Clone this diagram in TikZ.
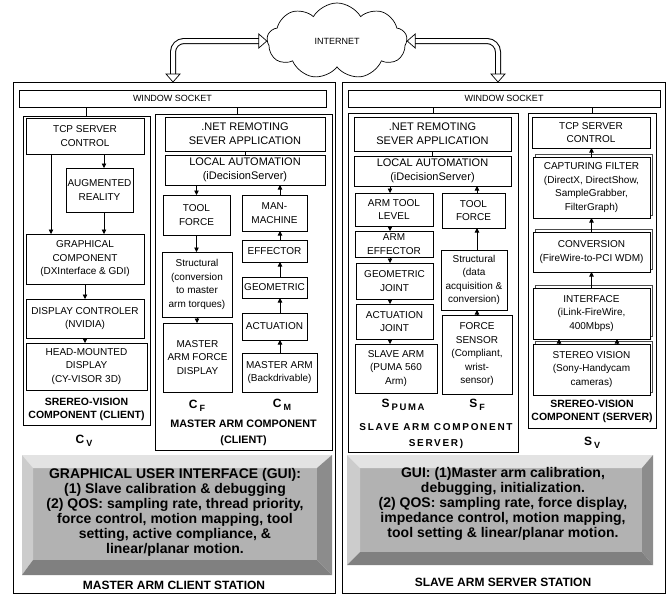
\documentclass[tikz,border=0pt]{standalone}
\usepackage{fontspec}
\setmainfont{Liberation Sans}
\newfontfamily\widefont[LetterSpace=17]{Liberation Sans}
\usetikzlibrary{shapes.symbols}
\usetikzlibrary{shadows}
\usetikzlibrary{arrows.meta}

\begin{document}
\begin{tikzpicture}[x=1pt,y=-1pt,
  box/.style={draw,fill=white,line width=0.7pt,inner sep=1pt,outer sep=0pt,align=center,font={\fontsize{10}{13.5}\selectfont}},
  bigbox/.style={box,font={\fontsize{11}{14}\selectfont}},
  stackbox/.style={box,copy shadow={shadow xshift=2.5pt,shadow yshift=2.5pt,fill=white,draw=black!70,line width=1pt}},
  frame/.style={draw,line width=0.7pt,outer sep=0pt,inner sep=0pt},
  title/.style={align=center,font={\fontsize{10.5}{13}\selectfont\bfseries}},
  sublab/.style={anchor=base,font={\fontsize{12}{12}\selectfont\bfseries}},
  guitext/.style={align=center,font={\fontsize{14}{15}\selectfont\bfseries}},
  arr/.style={line width=0.7pt,-{Triangle[length=4.5pt,width=4.5pt]}},
  link/.style={line width=0.7pt},
  hollow/.style={line width=6pt,rounded corners=11pt,shorten <=8pt,shorten >=8pt},
  hollowin/.style={white,line width=4pt,rounded corners=11pt,shorten <=8pt,shorten >=8pt},
  tip/.style={draw,fill=white,line width=0.7pt}]
  \useasboundingbox (0,0) rectangle (672,595);

  \node[cloud,draw,line width=0.7pt,cloud puffs=9,cloud puff arc=120,aspect=1.9,minimum width=140pt,minimum height=76pt,inner sep=0pt,font={\fontsize{9}{9}\selectfont}] (inet) at (337,41) {INTERNET};

  \node[frame,minimum width=322pt,minimum height=511pt] (lstn) at (174,337.5) {};
  \node[frame,minimum width=323pt,minimum height=511pt] (rstn) at (503.5,337.5) {};

  \node[box,minimum width=307pt,minimum height=17pt,font={\fontsize{9}{9}\selectfont}] (lsock) at (172.5,98.5) {WINDOW SOCKET};
  \node[box,minimum width=312pt,minimum height=17pt,font={\fontsize{9}{9}\selectfont}] (rsock) at (504,98.5) {WINDOW SOCKET};

  \node[frame,minimum width=127pt,minimum height=309pt] (cvbox) at (86.5,270.5) {};
  \node[frame,minimum width=177pt,minimum height=336pt] (cmbox) at (243.5,282) {};
  \node[frame,minimum width=170pt,minimum height=339pt] (spbox) at (433,282.5) {};
  \node[frame,minimum width=128pt,minimum height=315pt] (svbox) at (592,270.5) {};

  \node[box,minimum width=118pt,minimum height=36pt] (ltcp) at (85,136) {TCP SERVER\\CONTROL};
  \node[box,minimum width=67pt,minimum height=44pt] (laug) at (99.5,190) {AUGMENTED\\REALITY};
  \node[box,minimum width=118pt,minimum height=50pt] (lgraph) at (85,259) {GRAPHICAL\\COMPONENT\\(DXInterface \& GDI)};
  \node[box,minimum width=118pt,minimum height=39pt] (ldisp) at (85,318.5) {DISPLAY CONTROLER\\(NVIDIA)};
  \node[box,minimum width=121pt,minimum height=47pt] (lhmd) at (86.5,366.5) {HEAD-MOUNTED\\DISPLAY\\(CY-VISOR 3D)};
  \node[title] (cvname) at (86.5,409) {SREREO-VISION\\COMPONENT (CLIENT)};
  \node[sublab] (cvlab) at (84,443) {C\,\raisebox{-3pt}{\fontsize{9}{9}\selectfont V}};

  \node[bigbox,minimum width=160pt,minimum height=34pt] (mnet) at (245,134) {.NET REMOTING\\SEVER APPLICATION};
  \node[bigbox,minimum width=160pt,minimum height=30pt] (mloc) at (245,170) {LOCAL AUTOMATION\\(iDecisionServer)};
  \node[box,minimum width=67pt,minimum height=40pt] (mtool) at (196.5,215) {TOOL\\FORCE};
  \node[box,minimum width=70pt,minimum height=65pt] (mstruct) at (197,284.5) {Structural\\(conversion\\to master\\arm torques)};
  \node[box,minimum width=69pt,minimum height=69pt] (mdisp) at (197.5,357.5) {MASTER\\ARM FORCE\\DISPLAY};
  \node[box,minimum width=65pt,minimum height=36pt] (mman) at (274.5,213) {MAN-\\MACHINE};
  \node[box,minimum width=65pt,minimum height=22pt] (meff) at (274.5,251) {EFFECTOR};
  \node[box,minimum width=65pt,minimum height=21pt] (mgeo) at (274.5,287.5) {GEOMETRIC};
  \node[box,minimum width=65pt,minimum height=27pt] (mact) at (274.5,326.5) {ACTUATION};
  \node[box,minimum width=75pt,minimum height=39pt] (marm) at (279.5,372.5) {MASTER ARM\\(Backdrivable)};
  \node[sublab] (cflab) at (197,408) {C\,\raisebox{-3pt}{\fontsize{9}{9}\selectfont F}};
  \node[sublab] (cmlab) at (282,407) {C\,\raisebox{-3pt}{\fontsize{9}{9}\selectfont M}};
  \node[align=center,font={\fontsize{10.8}{16}\selectfont\bfseries}] (cmname) at (243.5,433) {MASTER ARM COMPONENT\\(CLIENT)};

  \node[bigbox,minimum width=157pt,minimum height=34pt] (snet) at (432.5,134) {.NET REMOTING\\SEVER APPLICATION};
  \node[bigbox,minimum width=157pt,minimum height=30pt] (sloc) at (432.5,171) {LOCAL AUTOMATION\\(iDecisionServer)};
  \node[box,minimum width=78pt,minimum height=33pt] (stool) at (394,209.5) {ARM TOOL\\LEVEL};
  \node[box,minimum width=78pt,minimum height=26pt] (seff) at (394,244) {ARM\\EFFECTOR};
  \node[box,minimum width=77pt,minimum height=36pt] (sgeo) at (394.5,281) {GEOMETRIC\\JOINT};
  \node[box,minimum width=77pt,minimum height=35pt] (sact) at (394.5,321.5) {ACTUATION\\JOINT};
  \node[box,minimum width=82pt,minimum height=49pt] (sarm) at (396,368.5) {SLAVE ARM\\(PUMA 560\\Arm)};
  \node[box,minimum width=63pt,minimum height=35pt] (sftool) at (473.5,210.5) {TOOL\\FORCE};
  \node[box,minimum width=66pt,minimum height=60pt] (sstruct) at (474,280) {Structural\\(data\\acquisition \&\\conversion)};
  \node[box,minimum width=70pt,minimum height=79pt] (ssens) at (477,354.5) {FORCE\\SENSOR\\(Compliant,\\wrist-\\sensor)};
  \node[sublab] (spumalab) at (403,407) {S\,\raisebox{-3pt}{\widefont\bfseries\fontsize{9.5}{9.5}\selectfont PUMA}};
  \node[sublab] (sflab) at (477,407) {S\,\raisebox{-3pt}{\fontsize{9}{9}\selectfont F}};
  \node[align=center,font={\widefont\bfseries\fontsize{10}{16}\selectfont}] (spname) at (436,436) {SLAVE ARM COMPONENT\\SERVER)};

  \node[box,minimum width=118pt,minimum height=31pt] (rtcp) at (591,132.5) {TCP SERVER\\CONTROL};
  \node[stackbox,minimum width=117pt,minimum height=61pt] (rcap) at (591.5,187.5) {CAPTURING FILTER\\(DirectX, DirectShow,\\SampleGrabber,\\FilterGraph)};
  \node[stackbox,minimum width=117pt,minimum height=40pt] (rconv) at (591.5,252) {CONVERSION\\(FireWire-to-PCI WDM)};
  \node[stackbox,minimum width=117pt,minimum height=51pt] (rintf) at (591.5,313.5) {INTERFACE\\(iLink-FireWire,\\400Mbps)};
  \node[stackbox,minimum width=117pt,minimum height=51pt] (rster) at (591.5,369.5) {STEREO VISION\\(Sony-Handycam\\cameras)};
  \node[title] (svname) at (592,411.5) {SREREO-VISION\\COMPONENT (SERVER)};
  \node[sublab] (svlab) at (592,445) {S\,\raisebox{-3pt}{\fontsize{9}{9}\selectfont V}};

  \fill[gray!60] (33,468) rectangle (317,560);
  \fill[gray!22] (22,455) -- (332,455) -- (317,468) -- (33,468) -- cycle;
  \fill[gray!40] (22,455) -- (33,468) -- (33,560) -- (22,575) -- cycle;
  \fill[gray!90] (332,455) -- (332,575) -- (317,560) -- (317,468) -- cycle;
  \fill[gray] (22,575) -- (332,575) -- (317,560) -- (33,560) -- cycle;
  \node[guitext] (lgui) at (175,512) {GRAPHICAL USER INTERFACE (GUI):\\(1) Slave calibration \& debugging\\(2) QOS: sampling rate, thread priority,\\force control, motion mapping, tool\\setting, active compliance, \&\\linear/planar motion.};

  \fill[gray!60] (360,468) rectangle (642,552);
  \fill[gray!22] (347,455) -- (653,455) -- (642,468) -- (360,468) -- cycle;
  \fill[gray!40] (347,455) -- (360,468) -- (360,552) -- (347,565) -- cycle;
  \fill[gray!90] (653,455) -- (653,565) -- (642,552) -- (642,468) -- cycle;
  \fill[gray] (347,565) -- (653,565) -- (642,552) -- (360,552) -- cycle;
  \node[guitext] (rgui) at (503,504) {GUI: (1)Master arm calibration,\\debugging, initialization.\\(2) QOS: sampling rate, force display,\\impedance control, motion mapping,\\tool setting \& linear/planar motion.};

  \node[font={\fontsize{12}{12}\selectfont\bfseries}] (lstname) at (174,585) {MASTER ARM CLIENT STATION};
  \node[font={\fontsize{12}{12}\selectfont\bfseries}] (rstname) at (503,582) {SLAVE ARM SERVER STATION};

  \coordinate (lax) at (173,0);
  \coordinate (rax) at (498,0);
  \draw[hollow] (inet.west) -| (lstn.north -| lax);
  \draw[hollowin] (inet.west) -| (lstn.north -| lax);
  \draw[tip] (inet.west) -- ++(-8,-7) -- ++(0,14) -- cycle;
  \draw[tip] (lstn.north -| lax) -- ++(-7,-8) -- ++(14,0) -- cycle;
  \draw[hollow] (inet.east) -| (rstn.north -| rax);
  \draw[hollowin] (inet.east) -| (rstn.north -| rax);
  \draw[tip] (inet.east) -- ++(8,-7) -- ++(0,14) -- cycle;
  \draw[tip] (rstn.north -| rax) -- ++(-7,-8) -- ++(14,0) -- cycle;

  \coordinate (cmx) at (237,0);
  \draw[link] (cvbox.north) -- (cvbox.north |- lsock.south);
  \draw[link] (lsock.south -| cmx) -- (cmbox.north -| cmx);
  \draw[link] (spbox.north) -- (spbox.north |- rsock.south);
  \draw[link] (svbox.north) -- (svbox.north |- rsock.south);

  \coordinate (lx1) at (104,0);
  \coordinate (lx2) at (51,0);
  \draw[arr] (ltcp.south -| lx1) -- (laug.north -| lx1);
  \draw[arr] (ltcp.south -| lx2) -- (lgraph.north -| lx2);
  \draw[arr] (laug.south -| lx1) -- (lgraph.north -| lx1);
  \draw[arr] (lgraph.south) -- (lgraph.south |- ldisp.north);
  \draw[arr] (ldisp.south) -- (ldisp.south |- lhmd.north);

  \coordinate (mx) at (280,0);
  \draw[link] (mnet.south) -- (mloc.north);
  \draw[arr] (mloc.south -| mtool.north) -- (mtool.north);
  \draw[arr] (mtool.south) -- (mtool.south |- mstruct.north);
  \draw[arr] (mstruct.south) -- (mstruct.south |- mdisp.north);
  \draw[arr] (marm.north -| mx) -- (mact.south -| mx);
  \draw[arr] (mact.north -| mx) -- (mgeo.south -| mx);
  \draw[arr] (mgeo.north -| mx) -- (meff.south -| mx);
  \draw[arr] (meff.north -| mx) -- (mman.south -| mx);
  \draw[arr] (mman.north -| mx) -- (mloc.south -| mx);

  \coordinate (sx) at (390,0);
  \coordinate (sfx) at (477,0);
  \draw[link] (snet.south) -- (sloc.north);
  \draw[arr] (sloc.south -| sx) -- (stool.north -| sx);
  \draw[arr] (stool.south -| sx) -- (seff.north -| sx);
  \draw[arr] (seff.south -| sx) -- (sgeo.north -| sx);
  \draw[arr] (sgeo.south -| sx) -- (sact.north -| sx);
  \draw[arr] (sact.south -| sx) -- (sarm.north -| sx);
  \draw[arr] (ssens.north -| sfx) -- (sstruct.south -| sfx);
  \draw[arr] (sstruct.north -| sfx) -- (sftool.south -| sfx);
  \draw[arr] (sftool.north -| sfx) -- (sloc.south -| sfx);

  \coordinate (rx1) at (559,0);
  \coordinate (rx2) at (617,0);
  \draw[arr] (rcap.north) -- (rcap.north |- rtcp.south);
  \draw[arr] (rconv.north) -- (rconv.north |- rcap.south);
  \draw[arr] (rintf.north) -- (rintf.north |- rconv.south);
  \draw[arr] (rster.north -| rx1) -- (rintf.south -| rx1);
  \draw[arr] (rster.north -| rx2) -- (rintf.south -| rx2);
\end{tikzpicture}
\end{document}
